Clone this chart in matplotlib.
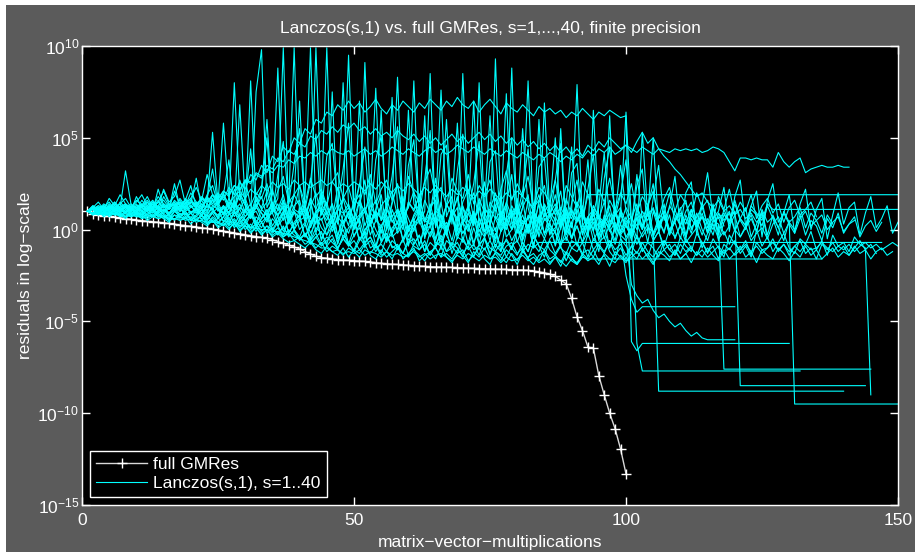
import numpy as np
import matplotlib.pyplot as plt
from matplotlib.patches import Rectangle

plt.rcParams['font.family'] = ['Liberation Sans', 'DejaVu Sans']
plt.rcParams['mathtext.fontset'] = 'custom'
plt.rcParams['mathtext.rm'] = 'Liberation Sans'
plt.rcParams['mathtext.it'] = 'Liberation Sans:italic'
plt.rcParams['mathtext.default'] = 'regular'

# full GMRes residual, log10, one value per matvec 1..100
gmres = [1.0, 0.85, 0.8, 0.75, 0.72, 0.68, 0.64, 0.6, 0.56, 0.52,
         0.49, 0.46, 0.43, 0.4, 0.37, 0.34, 0.3, 0.25, 0.22, 0.18,
         0.14, 0.1, 0.06, 0.02, -0.03, -0.08, -0.13, -0.18, -0.23, -0.28,
         -0.33, -0.38, -0.42, -0.46, -0.55, -0.65, -0.75, -0.85, -0.95, -1.05,
         -1.2, -1.33, -1.45, -1.52, -1.56, -1.6, -1.63, -1.65, -1.67, -1.69,
         -1.71, -1.73, -1.76, -1.8, -1.83, -1.86, -1.88, -1.9, -1.92, -1.94,
         -1.96, -1.98, -2.0, -2.02, -2.03, -2.04, -2.05, -2.06, -2.07, -2.08,
         -2.1, -2.11, -2.12, -2.13, -2.14, -2.15, -2.16, -2.17, -2.18, -2.19,
         -2.2, -2.22, -2.25, -2.3, -2.35, -2.42, -2.55, -2.75, -2.95, -3.75,
         -4.75, -5.5, -6.4, -6.45, -7.95, -9.0, -10.0, -10.85, -11.95, -13.3]

# Lanczos(s,1) residuals, log10 in tenths, one value per matvec from 1
b1 = [10, 9, 9, 8, 9, 8, 8, 7, 8, 7, 7, 8, 7, 6, 7, 6, 6, 5, 6, 5,
      5, 5, 4, 4, 4, 3, 3, 2, 2, 2, 1, 1, 0, 0, -1, -1, -2, -3, -4, -5,
      -6, -7, -8, -10, -10, -12, -11, -13, -12, -13, -11, -14, -12, -13, -15, -12, -14, -13, -15, -14,
      -12, -15, -13, -16, -14, -13, -15, -17, -14, -16, -13, -15, -17, -14, -16, -15, -18, -15, -17, -16,
      -14, -17, -15, -18, -16, -19, -15, -17, -20, -16, -18, -14, -17, -15, -19, -13, -16, -18, -14, -17,
      -15, -12, -16, -13, -18, -14, -11, -15, -12, -16, -13, -10, -14, -11, -15, -12, -9, -13, -10, -14,
      -11, -8, -12, -9, -13, -10, -7, -11, -8, -12, -9, -12, -8, -11, -10, -7, -10, -12, -9, -11,
      -8, -12, -9, -7, -10, -8, -11, -9, -7, -9]
b2 = [10, 11, 9, 12, 10, 13, 11, 9, 12, 10, 14, 11, 9, 13, 10, 12, 15, 10, 13, 9,
      12, 8, 14, 10, 7, 13, 9, 16, 8, 11, 6, 14, 9, 5, 12, 7, 15, 4, 10, 6,
      13, 3, 9, 11, 2, 8, 14, 4, 10, 1, 7, 12, 3, 9, -2, 11, 5, 0, 13, 6,
      -1, 9, 4, 14, 2, 8, -3, 10, 5, 12, 0, 7, -4, 9, 3, 13, -1, 6, 11, 2,
      8, -2, 10, 4, 12, -3, 7, 1, 9, -5, 5, 11, 0, 6, -4, 8, 2, 10, -2, 4,
      -6, 7, 1, 9, -3, 5, -1, 8, -5, 3, 6, -2, 9, 0, -6, 4, 7, -3, 2, 8,
      -4, 1, 6, -1, 9, -5, 3, 7, -2, 4, 0, 8, -3, 5, 2, -6, 6, 1, 9, -2,
      3, 7, -4, 2, 5, -1, 4]
b3 = [10, 12, 15, 11, 17, 13, 19, 14, 12, 16, 13, 18, 12, 15, 21, 14, 11, 17, 13, 20,
      15, 12, 19, 24, 14, 18, 11, 22, 16, 27, 13, 20, 17, 25, 12, 21, 29, 15, 19, 24,
      14, 28, 18, 22, 13, 26, 31, 17, 23, 12, 25, 19, 30, 14, 22, 27, 16, 24, 11, 29,
      20, 15, 26, 33, 18, 23, 13, 28, 21, 17, 30, 14, 24, 19, 27, 12, 22, 32, 16, 25,
      18, 29, 13, 23, 20, 15, 27, 10, 24, 18, 12, 26, 19, 8, 22, 15, 28, 11, 20, 14,
      25, 9, 18, 13, 21, 6, 17, 23, 10, 19, 14, 7, 20, 12, 16, 5, 18, 11, 22, 8,
      15, 10, 19, 6, 13, 17, 9, 14, 4, 12, 16, 8, 11, 15, 7]
b4 = [10, 9, 11, 8, 10, 8, 9, 7, 10, 8, 9, 6, 8, 10, 7, 8, 5, 9, 6, 7,
      5, 8, 4, 6, 3, 7, 2, 5, 1, 4, 0, 3, -1, 2, -2, 1, -4, 0, -3, -5,
      -2, -7, -4, -9, -6, -3, -10, -5, -8, -11, -4, -9, -6, -12, -7, -2, -10, -8, -13, -5,
      -9, -11, -6, -14, -8, -3, -12, -7, -10, -15, -6, -11, -9, -4, -13, -8, -12, -5, -10, -14,
      -7, -12, -3, -9, -11, -6, -13, -8, -4, -10, -12, -7, -15, -5, -9, -13, -6, -11, -8, -14,
      -9, -4, -12, -7, -10, -15, -6, -11, -8, -13, -5, -10, -14, -7, -12, -9, -16, -8, -11, -6,
      -13, -9, -15, -7, -11, -10, -5, -12, -8, -14, -9, -6, -13, -10, -16, -8, -11, -7, -12, -9,
      -14, -10, -6, -11, -8, -13]
b5 = [10, 13, 11, 14, 12, 10, 15, 12, 14, 11, 16, 12, 14, 10, 18, 13, 15, 11, 14, 17,
      12, 16, 10, 19, 13, 9, 17, 12, 20, 14, 8, 18, 11, 15, 22, 10, 16, 7, 19, 13,
      5, 17, 11, 20, 8, 14, 3, 18, 12, 6, 16, 9, 21, 4, 13, 17, 7, 11, 2, 15,
      10, 19, 5, 12, 16, 1, 14, 8, 18, 6, 13, 3, 17, 9, 11, 20, 4, 15, 7, 12,
      0, 16, 10, 5, 14, 8, 19, 2, 11, 6, 15, 9, -1, 13, 7, 4, 16, 10, 3, 12,
      6, 14, 0, 9, 11, 5, -2, 13, 8, 2, 10, 15, 4, 7, -1, 12, 6, 9, 3, 14,
      5, 0, 11, 8, 2, 13, 6, -3, 10, 4, 7, 12, 1, 9, 5, -2, 8, 3]
e1 = [10, 9, 10, 8, 9, 10, 8, 9, 7, 9, 8, 10, 7, 8, 9, 6, 8, 7, 9, 5,
      7, 6, 8, 4, 6, 5, 3, 6, 2, 4, 1, 3, -1, 2, 0, -2, 1, -3, -1, -5,
      -3, -6, -2, -8, -4, -7, -10, -5, -9, -6, -11, -7, -4, -10, -8, -12, -6, -9, -13, -7,
      -5, -11, -8, -14, -9, -6, -12, -10, -7, -13, -9, -15, -8, -11, -6, -12, -14, -9, -7, -13,
      -10, -16, -8, -12, -5, -11, -14, -9, -17, -10, -7, -13, -11, -15, -8, -12, -6, -14, -10, -16,
      -9, -13, -7, -12, -15, -10, -6, -11, -14, -8, -12, -9]
e2 = [10, 11, 10, 12, 9, 11, 10, 12, 9, 11, 10, 8, 12, 9, 11, 7, 10, 12, 8, 10,
      9, 11, 7, 10, 8, 12, 6, 9, 11, 5, 8, 10, 4, 7, 9, 2, 6, 8, 0, 5,
      7, -2, 4, 6, -3, 2, 5, -5, 1, 4, -6, 0, 3, -4, 2, -7, 1, 4, -5, -1,
      3, -8, 0, 2, -6, 4, -3, -9, 1, -2, 3, -7, 0, -4, 2, -10, -1, 3, -6, 0,
      -3, 2, -8, 1, -5, 3, -2, -9, 0, -4, 2, -7, -1, 4, -5, 0, -10, 2, -3, -6,
      1, -8, -2, 3, -6, -1, -9, 0, -4, 2, -7, -3, 1, -10, -2, 3, -5, -1, -8, 0,
      -4, 2, -6, -2, 1, -5]
e3 = [10, 12, 11, 13, 10, 12, 11, 14, 10, 13, 12, 10, 14, 11, 13, 9, 12, 15, 10, 12,
      14, 9, 13, 11, 15, 8, 12, 10, 14, 7, 11, 13, 6, 10, 14, 8, 12, 5, 11, 9,
      13, 4, 10, 12, 7, 3, 11, 9, 14, 5, 8, 12, 2, 10, 6, 13, 4, 9, 11, 1,
      7, 12, 5, 3, 10, 8, 0, 11, 6, 13, 4, 9, 2, 12, 7, -1, 10, 5, 8, 14,
      3, 6, 11, 0, 9, 4, 12, 7, -2, 10, 5, 8, 1, 13, 6, 3, 9, -1, 11, 4,
      7, 0, 10, 5, 12, 2, 8, -2, 6, 9, 3, 11, 1, 7, 4, -3, 9, 5, 10, 0,
      6, 2, 8, -1, 11, 4, 7, 1, 9, 3, -2, 6, 10, 2, 5, 8, 0, 4, 7, -1,
      3, 5]
e4 = [10, 9, 8, 9, 8, 9, 7, 8, 7, 8, 6, 7, 8, 6, 7, 5, 6, 7, 5, 6,
      4, 5, 3, 5, 2, 4, 1, 3, 0, 2, -1, 1, -2, 0, -3, -1, -4, -2, -6, -4,
      -8, -6, -10, -7, -12, -9, -11, -14, -10, -12, -15, -11, -13, -9, -14, -12, -16, -10, -13, -15,
      -11, -14, -17, -12, -10, -15, -13, -16, -11, -14, -18, -12, -15, -10, -16, -13, -17, -11, -14, -19,
      -12, -15, -13, -17, -11, -16, -14, -18, -12, -15, -19, -13, -16, -11, -17, -14, -20, -12, -15, -18,
      -13, -16, -10, -15, -19, -12, -14, -17, -11, -16, -13, -18, -12, -15, -10, -14, -17, -11, -16, -13,
      -9, -15, -12, -18, -11, -14, -16, -10, -13, -17, -12, -15, -9, -14, -11, -16, -13, -10, -15, -12,
      -14, -9, -13, -11, -16, -12, -10, -14, -12]
e5 = [10, 11, 12, 10, 11, 13, 10, 12, 11, 9, 12, 10, 13, 11, 9, 12, 14, 10, 11, 13,
      10, 12, 8, 13, 11, 9, 14, 7, 12, 10, 6, 12, 9, 4, 11, 8, 13, 3, 9, 7,
      11, 1, 8, 5, 10, -1, 7, 3, 9, 0, 6, 10, -3, 5, 2, 8, -2, 4, 11, -4,
      3, 7, 0, 9, -5, 5, 1, 8, -3, 6, 2, 10, -1, 4, -6, 7, 3, 0, 9, -2,
      5, 1, 8, -4, 6, 2, -1, 10, 3, -5, 7, 0, 4, 9, -3, 5, 1, -6, 8, 2,
      -2, 6, 0, 10, -4, 3, 7, -1, 4, -5, 8, 1, 5, -3, 6, 0, 9, 2]
p1 = [10, 11, 12, 10, 13, 11, 12, 14, 11, 13, 12, 15, 11, 13, 16, 12, 14, 11, 17, 13,
      15, 12, 18, 14, 20, 16, 23, 19, 26, 22, 30, 27, 35, 31, 40, 37, 45, 42, 50, 47,
      55, 52, 60, 58, 64, 62, 68, 65, 70, 66, 69, 64, 67, 71, 66, 63, 68, 65, 70, 67,
      64, 69, 66, 71, 68, 65, 70, 67, 72, 68, 66, 70, 64, 68, 71, 67, 63, 69, 66, 64,
      68, 65, 62, 67, 64, 66, 63, 65, 61, 64, 62, 66, 63, 60, 64, 62, 65, 63, 61, 62,
      -61, -66, -62]
p2 = [10, 12, 10, 13, 11, 14, 12, 10, 13, 12, 14, 11, 15, 12, 10, 14, 13, 16, 12, 15,
      13, 17, 14, 19, 16, 21, 18, 24, 21, 27, 25, 31, 29, 35, 33, 39, 37, 43, 41, 47,
      45, 51, 49, 54, 52, 56, 53, 57, 55, 58, 54, 56, 52, 55, 51, 53, 50, 54, 51, 49,
      52, 48, 51, 47, 50, 46, 49, 52, 48, 51, 47, 50, 53, 49, 52, 48, 51, 47, 50, 46,
      49, 45, 48, 44, 47, 43, 46, 42, 45, 41, 44, 40, 46, 43, 48, 45, 50, 47, 44, 46,
      42, 48, 53, 47, 50, 44, 40, 37, 33, 30, 26, 22, 18, 20, 15, 12, 16, 10, 13, 8,
      11, 6, 9, 4, 7]
p3 = [10, 11, 13, 10, 12, 14, 11, 13, 10, 12, 11, 13, 15, 12, 14, 11, 16, 13, 12, 15,
      14, 17, 15, 19, 17, 21, 19, 24, 22, 27, 26, 30, 28, 33, 31, 35, 34, 38, 36, 40,
      39, 42, 40, 43, 41, 44, 42, 41, 43, 40, 42, 44, 41, 43, 40, 42, 45, 43, 41, 44,
      42, 40, 43, 45, 42, 44, 41, 43, 46, 44, 42, 45, 43, 41, 44, 42, 40, 43, 41, 39,
      42, 40, 38, 41, 39, 42, 40, 37, 40, 38, 41, 39, 43, 40, 44, 42, 45, 41, 43, 46,
      44, 42, 45, 43, 41, 44, 43, 42, 44, 43, 44, 43, 44, 42, 43, 45, 44, 42, 37, 32,
      39, 39, 38, 39, 38, 38, 34, 42, 37, 34, 37, 39, 31, 33, 34, 35, 34, 34, 35, 34, 34]
p4 = [10, 12, 11, 13, 10, 12, 14, 11, 13, 12, 10, 13, 11, 15, 12, 14, 11, 13, 16, 12,
      14, 11, 17, 13, 15, 19, 14, 18, 21, 17, 22, 19, 24, 21, 26, 23, 25, 22, 27, 24,
      26, 23, 25, 27, 24, 26, 22, 25, 23, 26, 24, 21, 25, 22, 26, 23, 20, 24, 21, 25,
      22, 19, 23, 20, 24, 21, 18, 22, 19, 23, 20, 17, 21, 18, 22, 19, 16, 20, 17, 21,
      18, 15, 12, 16, 10, 14, 8, 12, 6, 11, 5, 9, 3, 8, 1, 6, -1, 4, -3, 2,
      -2, 3, -4, 1, -1, -88]
sp1 = [10, 12, 10, 13, 11, 15, 12, 32, 14, 11, 13, 16, 12, 18, 14, 11, 21, 13, 16, 24,
       12, 18, 15, 53, 14, 20, 12, 80, 18, 9, 81, 15, 22, 60, 11, 17, 99, 8, 20, 70,
       12, 6, 99, 14, 9, 75, 5, 16, 95, 10, 3, 91, 13, 7, 65, 2, 15, 83, 8, 12,
       81, 4, 10, 85, 1, 14, 60, 6, 0, 85, 11, 3, 80, 7, -2, 93, 9, 4, 88, 0,
       12, 81, 5, -3, 69, 8, 2, 55, -1, 10, 79, 3, -4, 65, 6, 1, 62, -2, 9, 64,
       4, -5, 53, 7, 50, 0, 8, -3, 11, 2, -4, 6, 1, 9, -2, 5, 3, -76]
sp2 = [10, 11, 13, 12, 15, 11, 14, 17, 12, 15, 19, 13, 16, 12, 22, 15, 18, 27, 14, 17,
       23, 16, 30, 19, 14, 58, 17, 11, 68, 15, 8, 75, 98, 12, 19, 88, 10, 14, 99, 7,
       18, 99, 9, 15, 99, 6, 11, 80, 13, 4, 70, 10, 17, 77, 5, 9, 72, 12, 3, 65,
       14, 8, 62, 2, 11, 76, 7, 15, 58, 4, 9, 70, 1, 13, 62, 6, 10, 74, 3, 8,
       55, 12, 0, 60, 7, 11, 50, 2, 14, 45, 5, 9, 38, -1, 12, 42, 4, 8, 35, 10,
       1, 30, 6, 13, 25, -2, 9, 20, 4, 11, 16, 0, 7, 12, 3, 14, -3, 8, 5, 10, -85]
sp3 = [10, 9, 12, 10, 14, 11, 9, 13, 10, 18, 12, 15, 10, 22, 13, 11, 25, 12, 16, 14,
       28, 11, 17, 33, 13, 19, 38, 10, 27, 16, 44, 12, 21, 50, 9, 30, 48, 14, 36, 55,
       11, 26, 52, 8, 40, 47, 13, 33, 58, 10, 24, 45, 6, 38, 51, 12, 29, 56, 4, 35,
       49, 9, 27, 54, 7, 41, 46, 3, 32, 52, 10, 25, 48, 5, 37, 43, 1, 30, 50, 8,
       21, 44, 2, 34, 39, 6, 27, 47, -1, 31, 36, 4, 22, 41, 0, 28, 45, 7, 19, 38,
       3, 24, 33, -2, 17, 35, 5, 12, 29, 1, 20, 26, -3, 14, 31, 6, 10, 23, -1, 18,
       27, 2, 13, 21, -4, 16, 25, 4, 9, 19, -2, 14, 22, 0, 11, 17, -5, 8, 20, 3,
       12, 15, -3, 9, 18, 1, 6, 13, -2, 4]
h1 = [10, 12, 11, 9, 13, 10, 12, 14, 11, 10, 13, 11, 15, 12, 10, 14, 11, 13, 12, 16,
      11, 14, 9, 17, 12, 8, 15, 11, 19, 13, 7, 16, 12, 21, 9, 14, 5, 18, 11, 24,
      8, 15, 3, 20, 12, 6, 23, 10, 2, 17, 13, 27, 4, 11, 19, 0, 14, 25, 7, 12,
      21, 3, 16, 9, 28, 5, 13, 18, -1, 15, 22, 6, 11, 26, 2, 17, 8, 14, 30, 4,
      12, 19, -2, 16, 24, 7, 10, 21, 1, 14, 27, 5, 19]
h2 = [10, 9, 11, 8, 12, 9, 10, 13, 8, 11, 9, 12, 7, 10, 13, 8, 11, 6, 12, 9,
      7, 11, 5, 9, 12, 4, 8, 10, 3, 7, 11, 2, 6, 9, 0, 5, 10, -2, 4, 8,
      -4, 3, 9, -6, 2, 7, -3, 5, -8, 1, 6, -5, 4, 10, -7, 0, 8, -2, 3, -9,
      5, 11, -4, 2, 7, -6, 1, 9, -3, 4, -8, 6, 12, -1, 3, -5, 8, 0, 10, -7,
      2, 7, -4, 5, 13, -2, 1, 9, -6, 4, 11, -3, 6, 0, 8, -5, 3, 12, -1, 7,
      -4, 9, 2, 14, -2, 6, 10, 0, 5, 12, -3, 8, 3, 15, 1, 7, -1, 11, 4, 16,
      6, 2, 13, 9, 5, 14, 11]
h3 = [10, 8, 10, 7, 9, 11, 8, 10, 7, 9, 6, 9, 11, 7, 8, 5, 10, 7, 6, 9,
      5, 8, 3, 7, 4, 2, 6, 1, 5, 0, 3, -1, 4, -2, 1, -3, 2, -4, 0, -6,
      -2, -8, -4, -1, -9, -5, -11, -3, -7, -12, -6, -2, -10, -8, -13, -4, -9, -11, -5, -14,
      -8, -3, -12, -7, -10, -15, -6, -9, -13, -4, -11, -8, -14, -5, -10, -12, -7, -15, -9, -6,
      -12, -8, -10, -7]
h4 = [10, 9, 8, 10, 7, 9, 8, 6, 9, 7, 8, 5, 7, 9, 6, 4, 8, 5, 7, 3,
      6, 4, 2, 5, 1, 3, 0, 4, -1, 2, -2, 1, -3, 0, -4, -2, -5, -7, -6, -8,
      -10, -7, -11, -13, -9, -12, -14, -10, -15, -11, -13, -8, -14, -16, -11, -15, -12, -9, -16, -13,
      -10, -17, -14, -12, -16, -9, -15, -18, -13, -11, -17, -14, -10, -16, -19, -12, -15, -18, -13, -17,
      -11, -16, -19, -14, -12, -18, -15, -20, -13, -17, -19, -15, -16]
d2 = [10, 11, 9, 12, 10, 8, 11, 9, 12, 10, 8, 12, 10, 7, 11, 9, 13, 8, 10, 6,
      11, 8, 5, 10, 7, 12, 4, 9, 6, 2, 8, 5, 1, 7, -1, 4, 9, -2, 3, 6,
      -4, 2, 8, -5, 1, 5, -7, 3, -2, 7, -6, 0, 4, -9, 2, 6, -4, -1, 9, -8,
      1, 5, -3, 8, -10, 0, 4, -6, 7, -2, 3, -9, 6, -1, 2, -7, 10, -4, 0, 5,
      -11, 3, -5, 8, -2, 1, -8, 6, -3, 4, -9, 2, 7, -6, 0, 5, -10, 3, -4,
      -25, -38, -45, -42]
d3 = [10, 12, 10, 11, 13, 10, 12, 9, 11, 14, 10, 13, 11, 9, 14, 12, 10, 15, 11, 13,
      9, 14, 12, 16, 10, 13, 8, 15, 11, 17, 9, 12, 18, 7, 14, 11, 19, 6, 13, 16,
      4, 12, 20, 8, 15, 3, 11, 17, 6, 14, 19, 2, 10, 16, 5, 13, 21, 7, 0, 15,
      11, 18, 4, 9, 22, 1, 14, 8, 17, 3, 12, 20, 6, -1, 15, 10, 18, 2, 13, 7,
      16, -2, 11, 19, 5, 9, 14, 0, 17, 8, 4, 13, -3, 10, 6, 15, 1, 8, 12, -5,
      -30, -36, -40, -38, -44, -48, -46, -50, -53, -51, -55, -58, -56, -59, -60]
d4 = [10, 9, 11, 10, 8, 12, 9, 11, 8, 10, 7, 11, 9, 12, 8, 6, 10, 13, 7, 9,
      11, 5, 8, 12, 6, 9, 3, 10, 7, 4, 9, 1, 6, 11, 2, 7, -1, 5, 10, 0,
      4, -5, 8, 1, -3, 6, -8, 2, 9, -4, 3, -10, 7, 0, -6, 5, -2, 11, -7, 1,
      6, -9, 3, -4, 8, -11, 2, 7, -5, 4, -1, 9, -8, 5, -3, 1, -12, 6, 0, 8,
      -6, 3, -10, 7, -2, 4, -9, 1, 10, -5, 2, -7, 6, -1, -12, 5, 0, -8, 3, -4,
      1, -62, -77]
d8 = [10, 13, 11, 9, 12, 15, 10, 13, 11, 9, 14, 10, 12, 16, 11, 8, 13, 10, 15, 9,
      12, 7, 14, 11, 6, 13, 9, 16, 5, 10, 14, 3, 11, 8, 15, 2, 9, 13, 0, 12,
      7, 17, -2, 10, 5, 14, -4, 8, 12, 1, 16, -3, 9, 6, 13, -6, 11, 3, 18, -1,
      8, 14, -5, 10, 4, 15, -2, 7, 12, -7, 9, 2, 16, -4, 11, 6, -1, 13, 0, 17,
      -5, 8, 3, 14, -3, 10, 5, -8, 12, 1, 15, -2, 7, 11, -6, 4, 13, -1, 9, 2,
      -4, 12, 6, -7, 10, 0, 14, -3, 5, 8, -5, 11, 2, 7, -2, 13, -6, 4, 9, -1,
      6, 12, -4, 3, 10, -3, 8, 1, -6, 5, -95]
d9 = [10, 8, 9, 11, 8, 10, 7, 9, 12, 8, 10, 7, 11, 8, 6, 9, 12, 7, 10, 5,
      8, 11, 6, 9, 4, 7, 10, 3, 8, 5, 1, 7, 4, -1, 6, 2, -3, 5, 0, -4,
      3, -6, 1, -2, -8, 2, -5, 0, -9, -3, 1, -7, -4, -10, 0, -6, -2, -11, -5, 2,
      -8, -3, -12, -1, -7, -9, 0, -13, -4, -6, -10, 1, -8, -5, -14, -2, -9, -6, -11, 0,
      -7, -12, -3, -9, -15, -5, -1, -10, -13, -6, -8, -14, -2, -11, -7, -4, -12, -16, -5, -9,
      -13, -3, -10, -15, -6, -1, -11, -8, -14, -4, -9, -12, -2, -7, -13, -5, -10, -15, -3, -8,
      -11, -6, -14, 0, -9, -4, -12, -7, -2, -10, -13, -5, -8, -1, -11, -6, -14, -3, -9, -7,
      -12, -4, -8, -10, -90]

lanczos = [b1, b2, b3, b4, b5, e1, e2, e3, e4, e5, p1, p2, p3, p4,
           sp1, sp2, sp3, h1, h2, h3, h4, d2, d3, d4, d8, d9]
# stagnation: last value stays flat up to this matvec count (0 = stops)
hold_to = [0, 0, 0, 0, 0, 0, 0, 0, 0, 0, 130, 0, 0, 140,
           145, 144, 0, 150, 150, 147, 136, 120, 120, 132, 150, 0]

fig = plt.figure(figsize=(9.17, 5.52), dpi=100, facecolor='white')
fig.add_artist(Rectangle((6 / 917, 0), 909 / 917, 547 / 552, transform=fig.transFigure,
                         facecolor='#5b5b5b', edgecolor='none', zorder=-10))
ax = fig.add_axes([82 / 917, 47 / 552, 816 / 917, 459 / 552])
ax.set_facecolor('black')

gx = np.arange(1, len(gmres) + 1)
ax.semilogy(gx, 10 ** np.array(gmres), color='#d8d8d8', lw=1.0, marker='+',
            ms=7, mew=1.0, mec='white', label='full GMRes')

for i, (vals, end) in enumerate(zip(lanczos, hold_to)):
    x = list(range(1, len(vals) + 1))
    y = list(10 ** (np.array(vals) / 10.0))
    if end > len(vals):
        x.append(end)
        y.append(y[-1])
    ax.semilogy(x, y, color='#00ffff', lw=0.8,
                label='Lanczos(s,1), s=1..40' if i == 0 else None)

ax.set_xlim(0, 150)
ax.set_ylim(1e-15, 1e10)
ax.set_xticks([0, 50, 100, 150])
ax.set_yticks([1e-15, 1e-10, 1e-5, 1e0, 1e5, 1e10])
ax.set_yticklabels([r'$10^{-15}$', r'$10^{-10}$', r'$10^{-5}$', r'$10^{0}$',
                    r'$10^{5}$', r'$10^{10}$'])
ax.minorticks_off()
ax.tick_params(which='both', direction='in', length=6, width=1, color='white',
               labelcolor='white', labelsize=12.5, top=True, right=True)
ax.tick_params(axis='x', pad=6)
ax.tick_params(axis='y', pad=2)
for sp in ax.spines.values():
    sp.set_color('white')
    sp.set_linewidth(1)

ax.set_title('Lanczos(s,1) vs. full GMRes, s=1,...,40, finite precision',
             color='white', fontsize=12.5, pad=9)
ax.set_xlabel('matrix\u2212vector\u2212multiplications', color='white', fontsize=12.5, labelpad=5)
ax.set_ylabel('residuals in log\u2212scale', color='white', fontsize=12.5, labelpad=3)

leg = ax.legend(loc='lower left', bbox_to_anchor=(0.0098, 0.0174), borderaxespad=0,
                fontsize=12.5, facecolor='black', edgecolor='white', framealpha=1,
                fancybox=False, handlelength=2.95, handletextpad=0.35,
                labelspacing=0.2, borderpad=0.35, labelcolor='white')
leg.get_frame().set_linewidth(1)

fig.savefig('out.png', dpi=100, facecolor=fig.get_facecolor())
